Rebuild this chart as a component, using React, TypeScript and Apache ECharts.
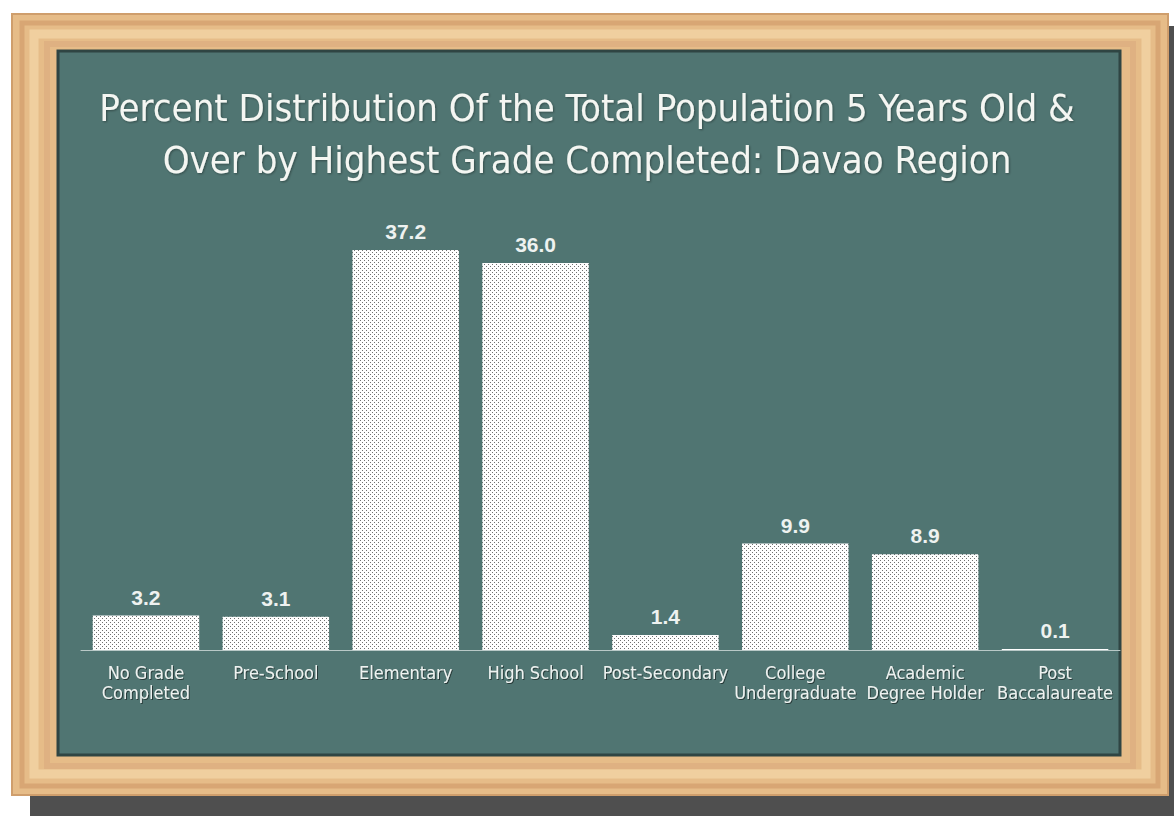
import React, { useEffect, useRef } from "react";
import * as echarts from "echarts";

const categories: string[] = [
  "No Grade\nCompleted",
  "Pre-School",
  "Elementary",
  "High School",
  "Post-Secondary",
  "College\nUndergraduate",
  "Academic\nDegree Holder",
  "Post\nBaccalaureate",
];
const values: number[] = [3.2, 3.1, 37.2, 36.0, 1.4, 9.9, 8.9, 0.1];
const titleLines: string[] = [
  "Percent Distribution Of the Total Population 5 Years Old &",
  "Over by Highest Grade Completed: Davao Region",
];

const W = 1174;
const H = 816;
const CHALK_FONT = "'Liberation Sans Narrow', 'DejaVu Sans Condensed', 'Liberation Sans', sans-serif";

function makeDots(): HTMLCanvasElement {
  const c = document.createElement("canvas");
  c.width = 4;
  c.height = 4;
  const ctx = c.getContext("2d")!;
  ctx.fillStyle = "#ffffff";
  ctx.fillRect(0, 0, 4, 4);
  ctx.fillStyle = "#707070";
  ctx.fillRect(0, 0, 1, 1);
  ctx.fillRect(2, 2, 1, 1);
  return c;
}

export default function App() {
  const ref = useRef<HTMLDivElement>(null);
  useEffect(() => {
    if (!ref.current) return;
    const chart = echarts.init(ref.current, null, { renderer: "svg", width: W, height: H });
    const dots = makeDots();
    chart.setOption({
      animation: false,
      backgroundColor: "#ffffff",
      graphic: [
        { type: "rect", z: -10, silent: true, shape: { x: 30, y: 26, width: 1144, height: 790 }, style: { fill: "#4f4f4f" } },
        { type: "rect", z: -9, silent: true, shape: { x: 12, y: 14, width: 1156, height: 781 }, style: { fill: "#e6bc88", stroke: "#cf9e6c", lineWidth: 2 } },
        { type: "rect", z: -8, silent: true, shape: { x: 22, y: 23, width: 1136, height: 763 }, style: { fill: "none", stroke: "#d8a674", lineWidth: 5 } },
        { type: "rect", z: -8, silent: true, shape: { x: 34, y: 34, width: 1112, height: 740 }, style: { fill: "none", stroke: "#f0cf9f", lineWidth: 9 } },
        { type: "rect", z: -8, silent: true, shape: { x: 47, y: 44, width: 1086, height: 722 }, style: { fill: "none", stroke: "#dfb182", lineWidth: 6 } },
        { type: "rect", z: -7, silent: true, shape: { x: 58, y: 51, width: 1062, height: 704 }, style: { fill: "#507572", stroke: "#2f4543", lineWidth: 3 } },
      ],
      title: {
        text: titleLines.join("\n"),
        left: "center",
        top: 77,
        textStyle: {
          color: "#f4f6f2",
          fontSize: 38,
          lineHeight: 52,
          fontWeight: "normal",
          fontFamily: CHALK_FONT,
          textShadowColor: "rgba(0,0,0,0.35)",
          textShadowBlur: 2,
          textShadowOffsetX: 1,
          textShadowOffsetY: 1,
        },
      },
      grid: { left: 81, right: 54, top: 220, bottom: 166, containLabel: false },
      xAxis: {
        type: "category",
        data: categories,
        axisLine: { show: true, lineStyle: { color: "#b9c9c7", width: 1 } },
        axisTick: { show: false },
        axisLabel: {
          interval: 0,
          color: "#eef2f0",
          fontSize: 18,
          lineHeight: 20,
          margin: 12,
          fontFamily: CHALK_FONT,
          textShadowColor: "rgba(0,0,0,0.5)",
          textShadowBlur: 1,
          textShadowOffsetX: 1,
          textShadowOffsetY: 1,
        },
      },
      yAxis: { type: "value", min: 0, max: 40, show: false, splitLine: { show: false } },
      series: [
        {
          type: "bar",
          data: values,
          barCategoryGap: "18%",
          itemStyle: {
            color: { image: dots, repeat: "repeat", imageWidth: 4, imageHeight: 4 },
          },
          label: {
            show: true,
            position: "top",
            distance: 8,
            color: "#eef2f0",
            fontSize: 21,
            fontWeight: "bold",
            fontFamily: "'Liberation Sans', Arial, sans-serif",
            formatter: (p: any) => Number(p.value).toFixed(1),
          },
        },
      ],
    });
    return () => chart.dispose();
  }, []);
  return <div ref={ref} style={{ position: "fixed", left: 0, top: 0, width: W, height: H }} />;
}
